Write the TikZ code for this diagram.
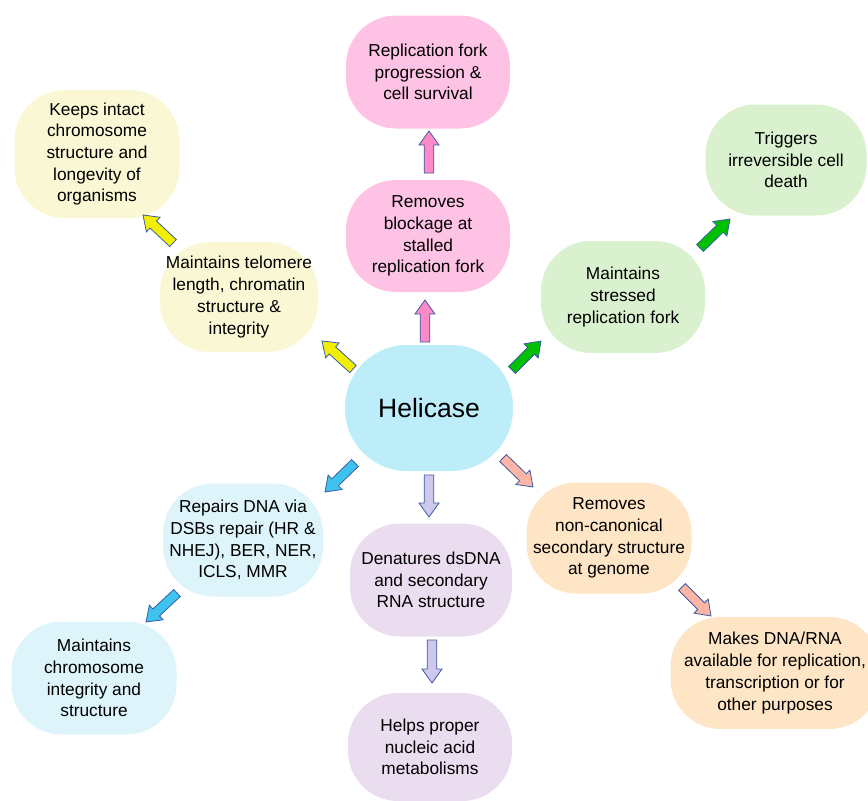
\documentclass[tikz,border=0pt]{standalone}
\usepackage{fontspec}
\setmainfont{Liberation Sans}
\usetikzlibrary{calc}

\definecolor{pinkbox}{RGB}{254,195,228}
\definecolor{yellowbox}{RGB}{250,248,212}
\definecolor{greenbox}{RGB}{217,241,207}
\definecolor{bluebox}{RGB}{221,244,250}
\definecolor{helibox}{RGB}{190,237,250}
\definecolor{lavbox}{RGB}{235,221,240}
\definecolor{peachbox}{RGB}{253,229,197}
\definecolor{pinkarr}{RGB}{255,138,200}
\definecolor{yellowarr}{RGB}{242,240,0}
\definecolor{greenarr}{RGB}{0,192,0}
\definecolor{bluearr}{RGB}{62,195,238}
\definecolor{lavarr}{RGB}{208,200,236}
\definecolor{peacharr}{RGB}{255,181,165}
\definecolor{arrline}{RGB}{58,91,165}

% block arrow from tail #1 to tip #2, filled with #3
\newcommand\blockarrow[3]{%
  \coordinate (ba-h) at ($(#2)!14pt!(#1)$);
  \filldraw[blockarr, fill=#3]
    ($(#1)!4.8pt!90:(#2)$) -- ($(ba-h)!4.8pt!90:(#2)$) -- ($(ba-h)!10pt!90:(#2)$) -- (#2)
    -- ($(ba-h)!10pt!-90:(#2)$) -- ($(ba-h)!4.8pt!-90:(#2)$) -- ($(#1)!4.8pt!-90:(#2)$) -- cycle;
}

\begin{document}
\begin{tikzpicture}[x=1pt,y=-1pt,
    box/.style={rounded corners=50pt, minimum width=164pt, minimum height=112pt,
      inner sep=0pt, align=center, font=\fontsize{17.3}{21.7}\selectfont},
    blockarr/.style={draw=arrline, line width=0.8pt, line join=miter}]
  \useasboundingbox (0,0) rectangle (868,801);

  % centre
  \node[box, fill=helibox, minimum width=168pt, minimum height=126pt, rounded corners=62pt,
    font=\fontsize{26.5}{30}\selectfont] (helicase) at (429,408) {Helicase};

  % up
  \node[box, fill=pinkbox, minimum height=113pt] (repfork) at (428,72)
    {Replication fork\\progression \&\\cell survival};
  \node[box, fill=pinkbox] (blockage) at (428,236)
    {Removes\\blockage at\\stalled\\replication fork};

  % up left
  \node[box, fill=yellowbox, minimum width=165pt, minimum height=128pt] (intact) at (97,154)
    {Keeps intact\\chromosome\\structure and\\longevity of\\organisms};
  \node[box, fill=yellowbox, minimum width=158pt, minimum height=110pt] (telomere) at (239,297)
    {Maintains telomere\\length, chromatin\\structure \&\\integrity};

  % up right
  \node[box, fill=greenbox, minimum width=161pt, minimum height=111pt] (death) at (786,160)
    {Triggers\\irreversible cell\\death};
  \node[box, fill=greenbox] (stressed) at (623,297)
    {Maintains\\stressed\\replication fork};

  % down left
  \node[box, fill=bluebox, minimum width=160pt, minimum height=113pt] (repairs) at (243,540)
    {Repairs DNA via\\DSBs repair (HR \&\\NHEJ), BER, NER,\\ICLS, MMR};
  \node[box, fill=bluebox, minimum width=165pt, minimum height=113pt] (integrity) at (94,678)
    {Maintains\\chromosome\\integrity and\\structure};

  % down
  \node[box, fill=lavbox, minimum width=162pt, minimum height=113pt] (denature) at (431,580)
    {Denatures dsDNA\\and secondary\\RNA structure};
  \node[box, fill=lavbox, minimum height=108pt] (metab) at (430,747)
    {Helps proper\\nucleic acid\\metabolisms};

  % down right
  \node[box, fill=peachbox, minimum width=165pt, minimum height=111pt] (noncanon) at (609,538)
    {Removes\\non-canonical\\secondary structure\\at genome};
  \node[box, fill=peachbox, minimum width=209pt, minimum height=112pt] (available) at (775,673)
    {Makes DNA/RNA\\available for replication,\\transcription or for\\other purposes};

  % arrow ends
  \coordinate (pk1a) at (429,173); \coordinate (pk1b) at (429,131);
  \coordinate (pk2a) at (425,342); \coordinate (pk2b) at (425,300);
  \coordinate (ye1a) at (353,369); \coordinate (ye1b) at (322,341);
  \coordinate (ye2a) at (173,243); \coordinate (ye2b) at (143,215);
  \coordinate (gr1a) at (512,370); \coordinate (gr1b) at (541,341);
  \coordinate (gr2a) at (700,248); \coordinate (gr2b) at (730,219);
  \coordinate (bl1a) at (355,463); \coordinate (bl1b) at (325,492);
  \coordinate (bl2a) at (177,593); \coordinate (bl2b) at (146,622);
  \coordinate (lv1a) at (429,475); \coordinate (lv1b) at (429,517);
  \coordinate (lv2a) at (432,640); \coordinate (lv2b) at (432,683);
  \coordinate (pe1a) at (503,458); \coordinate (pe1b) at (533,487);
  \coordinate (pe2a) at (682,587); \coordinate (pe2b) at (711,616);

  \blockarrow{pk1a}{pk1b}{pinkarr}
  \blockarrow{pk2a}{pk2b}{pinkarr}
  \blockarrow{ye1a}{ye1b}{yellowarr}
  \blockarrow{ye2a}{ye2b}{yellowarr}
  \blockarrow{gr1a}{gr1b}{greenarr}
  \blockarrow{gr2a}{gr2b}{greenarr}
  \blockarrow{bl1a}{bl1b}{bluearr}
  \blockarrow{bl2a}{bl2b}{bluearr}
  \blockarrow{lv1a}{lv1b}{lavarr}
  \blockarrow{lv2a}{lv2b}{lavarr}
  \blockarrow{pe1a}{pe1b}{peacharr}
  \blockarrow{pe2a}{pe2b}{peacharr}
\end{tikzpicture}
\end{document}
